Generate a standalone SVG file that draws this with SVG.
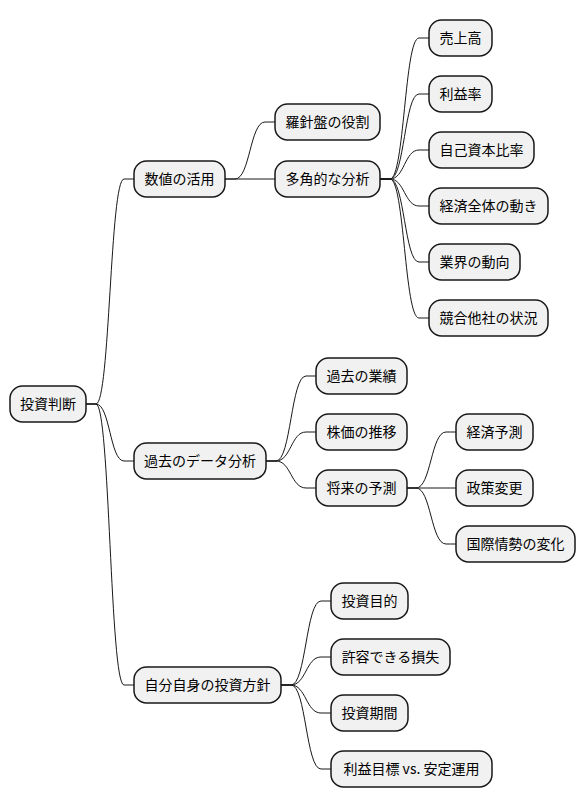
<svg xmlns="http://www.w3.org/2000/svg" width="586" height="809" viewBox="0 0 586 809">
<style>
.n rect{fill:#F1F1F1;stroke:#181818;stroke-width:1.5}
.n text{font-family:"Noto Sans CJK JP","Noto Sans",sans-serif;font-size:14px;fill:#000;text-anchor:middle}
.c path{fill:none;stroke:#181818;stroke-width:1}
</style>
<rect width="586" height="809" fill="#fff"/>
<g class="c">
<path d="M86,404 H96 C110,404 110,179 124,179 H134"/>
<path d="M86,404 H96 C110,404 110,461 124,461 H134"/>
<path d="M86,404 H96 C110,404 110,685 124,685 H134"/>
<path d="M225,179 H235 C250,179 250,122 265,122 H275"/>
<path d="M225,179 H275"/>
<path d="M380,179 H390 C404.5,179 404.5,38 419,38 H429"/>
<path d="M380,179 H390 C404.5,179 404.5,94 419,94 H429"/>
<path d="M380,179 H390 C404.5,179 404.5,150 419,150 H429"/>
<path d="M380,179 H390 C404.5,179 404.5,206 419,206 H429"/>
<path d="M380,179 H390 C404.5,179 404.5,262 419,262 H429"/>
<path d="M380,179 H390 C404.5,179 404.5,318 419,318 H429"/>
<path d="M266,461 H276 C291,461 291,376 306,376 H316"/>
<path d="M266,461 H276 C291,461 291,432 306,432 H316"/>
<path d="M266,461 H276 C291,461 291,488 306,488 H316"/>
<path d="M406,488 H416 C431,488 431,432 446,432 H456"/>
<path d="M406,488 H456"/>
<path d="M406,488 H416 C431,488 431,544 446,544 H456"/>
<path d="M281,685 H291 C306,685 306,601 321,601 H331"/>
<path d="M281,685 H291 C306,685 306,657 321,657 H331"/>
<path d="M281,685 H291 C306,685 306,713 321,713 H331"/>
<path d="M281,685 H291 C306,685 306,769 321,769 H331"/>
</g>
<g id="root" class="n"><rect x="10" y="386" width="76" height="36" rx="12.5"/><text x="48" y="409">投資判断</text></g>
<g id="n1" class="n"><rect x="134" y="161" width="91" height="36" rx="12.5"/><text x="179.5" y="184">数値の活用</text></g>
<g id="n11" class="n"><rect x="275" y="104" width="105" height="36" rx="12.5"/><text x="327.5" y="127">羅針盤の役割</text></g>
<g id="n12" class="n"><rect x="275" y="161" width="105" height="36" rx="12.5"/><text x="327.5" y="184">多角的な分析</text></g>
<g id="n121" class="n"><rect x="429" y="20" width="63" height="36" rx="12.5"/><text x="460.5" y="43">売上高</text></g>
<g id="n122" class="n"><rect x="429" y="76" width="63" height="36" rx="12.5"/><text x="460.5" y="99">利益率</text></g>
<g id="n123" class="n"><rect x="429" y="132" width="105" height="36" rx="12.5"/><text x="481.5" y="155">自己資本比率</text></g>
<g id="n124" class="n"><rect x="429" y="188" width="119" height="36" rx="12.5"/><text x="488.5" y="211">経済全体の動き</text></g>
<g id="n125" class="n"><rect x="429" y="244" width="91" height="36" rx="12.5"/><text x="474.5" y="267">業界の動向</text></g>
<g id="n126" class="n"><rect x="429" y="300" width="119" height="36" rx="12.5"/><text x="488.5" y="323">競合他社の状況</text></g>
<g id="n2" class="n"><rect x="134" y="443" width="132" height="36" rx="12.5"/><text x="200" y="466">過去のデータ分析</text></g>
<g id="n21" class="n"><rect x="316" y="358" width="91" height="36" rx="12.5"/><text x="361.5" y="381">過去の業績</text></g>
<g id="n22" class="n"><rect x="316" y="414" width="91" height="36" rx="12.5"/><text x="361.5" y="437">株価の推移</text></g>
<g id="n23" class="n"><rect x="316" y="470" width="91" height="36" rx="12.5"/><text x="361.5" y="493">将来の予測</text></g>
<g id="n231" class="n"><rect x="456" y="414" width="77" height="36" rx="12.5"/><text x="494.5" y="437">経済予測</text></g>
<g id="n232" class="n"><rect x="456" y="470" width="77" height="36" rx="12.5"/><text x="494.5" y="493">政策変更</text></g>
<g id="n233" class="n"><rect x="456" y="526" width="119" height="36" rx="12.5"/><text x="515.5" y="549">国際情勢の変化</text></g>
<g id="n3" class="n"><rect x="134" y="667" width="147" height="36" rx="12.5"/><text x="207.5" y="690">自分自身の投資方針</text></g>
<g id="n31" class="n"><rect x="331" y="583" width="77" height="36" rx="12.5"/><text x="369.5" y="606">投資目的</text></g>
<g id="n32" class="n"><rect x="331" y="639" width="119" height="36" rx="12.5"/><text x="390.5" y="662">許容できる損失</text></g>
<g id="n33" class="n"><rect x="331" y="695" width="77" height="36" rx="12.5"/><text x="369.5" y="718">投資期間</text></g>
<g id="n34" class="n"><rect x="331" y="751" width="161" height="36" rx="12.5"/><text x="411.5" y="774">利益目標 vs. 安定運用</text></g>
</svg>
